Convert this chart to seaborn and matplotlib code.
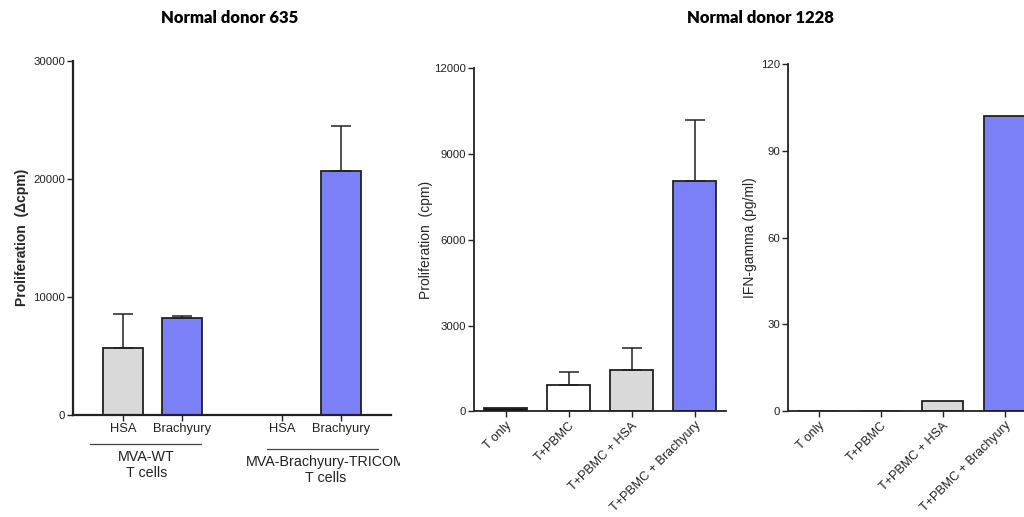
import numpy as np
import pandas as pd
import seaborn as sns
import matplotlib
matplotlib.use("Agg")
import matplotlib.pyplot as plt
import matplotlib.transforms as mtransforms

# ---- data ----
groups1 = ["MVA-WT\nT cells", "MVA-Brachyury-TRICOM\nT cells"]
antigens1 = ["HSA", "Brachyury"]
# rows: group, cols: antigen
prolif635 = [[5650, 8180], [0, 20700]]
prolif635_err = [[2880, 190], [0, 3800]]

conds = ["T only", "T+PBMC", "T+PBMC + HSA", "T+PBMC + Brachyury"]
prolif1228 = [110, 935, 1445, 8060]
prolif1228_err = [0, 450, 780, 2140]
ifng1228 = [0, 0, 3.5, 102]

GRAY = "#d9d9d9"
BLUE = "#7b80f6"
EDGE = "#222222"
TXT = "#222222"

sns.set_theme(style="ticks")
plt.rcParams["font.family"] = ["Liberation Sans", "DejaVu Sans"]
plt.rcParams["axes.linewidth"] = 1.3
plt.rcParams["xtick.major.size"] = 4
plt.rcParams["ytick.major.size"] = 4
plt.rcParams["xtick.major.pad"] = 2
plt.rcParams["ytick.major.pad"] = 1.5

W, H = 1024, 517
fig = plt.figure(figsize=(W / 100, H / 100), dpi=100)


def pos(l, r, b, t):
    return [l / W, (H - b) / H, (r - l) / W, (b - t) / H]


def style_axis(ax, lw):
    sns.despine(ax=ax)
    for s in ("left", "bottom"):
        ax.spines[s].set_color(EDGE)
        ax.spines[s].set_linewidth(lw)
    ax.tick_params(colors=EDGE, labelcolor=TXT, width=1.0)


# ---- panel 1: Normal donor 635 ----
ax1 = fig.add_axes(pos(73, 391, 415, 60.7))
df1 = pd.DataFrame([
    {"group": g, "antigen": a, "value": prolif635[i][j], "err": prolif635_err[i][j]}
    for i, g in enumerate(groups1) for j, a in enumerate(antigens1)
])
sns.barplot(data=df1, x="group", y="value", hue="antigen", hue_order=antigens1,
            palette=[GRAY, BLUE], saturation=1, width=0.742, gap=0.32,
            edgecolor=EDGE, linewidth=1.3, errorbar=None, legend=False, ax=ax1)
xs = []
for c, a in zip(ax1.containers, antigens1):
    for p, g in zip(c.patches, groups1):
        xs.append((p.get_x() + p.get_width() / 2, g, a))
xs.sort()
xpos = [x for x, _, _ in xs]
vals = [df1[(df1.group == g) & (df1.antigen == a)].value.iloc[0] for _, g, a in xs]
errs = [df1[(df1.group == g) & (df1.antigen == a)].err.iloc[0] for _, g, a in xs]
m = np.array(errs) > 0
ax1.errorbar(np.array(xpos)[m], np.array(vals)[m],
             yerr=[np.zeros(m.sum()), np.array(errs)[m]], fmt="none",
             ecolor=EDGE, elinewidth=1.1, capsize=7, capthick=1.1)
ax1.set_xlim(-0.5, 1.5)
ax1.set_ylim(0, 30000)
ax1.set_yticks([0, 10000, 20000, 30000])
ax1.set_xticks(xpos)
ax1.set_xticklabels([a for _, _, a in xs], fontsize=9.3)
ax1.tick_params(axis="y", labelsize=8.2)
ax1.set_xlabel("")
ax1.set_ylabel("Proliferation  (\u0394cpm)", fontsize=10, fontweight="bold",
               labelpad=3)
style_axis(ax1, 1.6)

blend = mtransforms.blended_transform_factory(ax1.transData, ax1.transAxes)
centers = [(xpos[0] + xpos[1]) / 2, (xpos[2] + xpos[3]) / 2]
line_shift = [-0.044, 0.072]
text_shift = [-0.04, 0.09]
for k, g in enumerate(groups1):
    c = centers[k]
    ly = -0.082 if k == 0 else -0.095
    lc = c + line_shift[k]
    ax1.plot([lc - 0.349, lc + 0.349], [ly, ly], transform=blend, color="#444444",
             lw=0.9, clip_on=False)
    t = ax1.text(c + text_shift[k], ly - 0.018, g, transform=blend,
                 ha="center", va="top", fontsize=10.3, color=TXT, linespacing=1.15)
    if k == 1:
        clip = mtransforms.TransformedBbox(
            mtransforms.Bbox([[0, 0], [400 / W, 1]]), fig.transFigure)
        t.set_clip_box(clip)
        t.set_clip_on(True)


# ---- panels 2 and 3: Normal donor 1228 ----
def cond_panel(ax, values, errors, ylim, yticks, ylabel, pad):
    df = pd.DataFrame({"cond": conds, "value": values})
    sns.barplot(data=df, x="cond", y="value", hue="cond",
                palette=["#111111", "white", GRAY, BLUE], saturation=1, width=0.67,
                edgecolor=EDGE, linewidth=1.3, errorbar=None, legend=False, ax=ax)
    if errors is not None:
        e = np.array(errors, dtype=float)
        k = e > 0
        ax.errorbar(np.arange(len(conds))[k], np.array(values)[k],
                    yerr=[np.zeros(k.sum()), e[k]], fmt="none", ecolor=EDGE,
                    elinewidth=1.1, capsize=7.5, capthick=1.1)
    ax.set_xlim(-0.5, 3.5)
    ax.set_ylim(*ylim)
    ax.set_yticks(yticks)
    ax.set_xticks(range(len(conds)))
    ax.set_xticklabels(conds, rotation=45, ha="right", rotation_mode="anchor",
                       fontsize=9)
    ax.tick_params(axis="y", labelsize=8.2)
    ax.set_xlabel("")
    ax.set_ylabel(ylabel, fontsize=10, labelpad=pad)
    style_axis(ax, 1.3)


ax2 = fig.add_axes(pos(474, 726, 411.3, 68.3))
cond_panel(ax2, prolif1228, prolif1228_err, (0, 12000),
           [0, 3000, 6000, 9000, 12000], "Proliferation  (cpm)", 1)

ax3 = fig.add_axes(pos(787.5, 1035.5, 411.3, 64))
cond_panel(ax3, ifng1228, None, (0, 120), [0, 30, 60, 90, 120],
           "IFN-gamma (pg/ml)", 3)

# titles
fig.text(230 / W, 1 - 18 / H, "Normal donor 635", ha="center", va="center",
         fontsize=12, fontweight="heavy", family="Lato", color="black")
fig.text(760 / W, 1 - 18 / H, "Normal donor 1228", ha="center", va="center",
         fontsize=12, fontweight="heavy", family="Lato", color="black")

fig.savefig("out.png", dpi=100, facecolor="white")
